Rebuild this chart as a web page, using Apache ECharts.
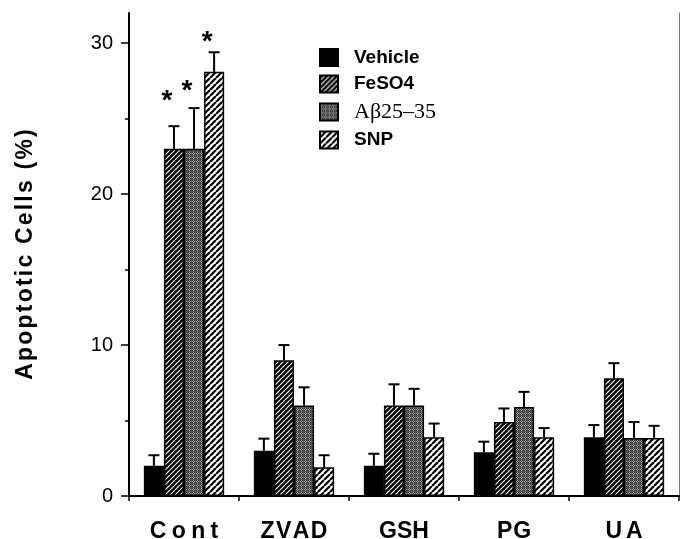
<!DOCTYPE html>
<html><head><meta charset="utf-8">
<script src="https://cdn.jsdelivr.net/npm/echarts@6/dist/echarts.min.js"></script>
<style>html,body{margin:0;padding:0;background:#fff}#c{width:680px;height:539px}</style>
</head><body><div id="c"></div>
<script>
// ---- data ----
const categories = ['Cont', 'ZVAD', 'GSH', 'PG', 'UA'];
const seriesNames = ['Vehicle', 'FeSO4', 'Aβ25–35', 'SNP'];
const vehicle    = [2.0, 3.0, 2.0, 2.9, 3.9];
const vehicleErr = [0.7, 0.8, 0.8, 0.7, 0.8];
const feso4      = [23.0, 9.0, 6.0, 4.9, 7.8];
const feso4Err   = [1.5, 1.0, 1.4, 0.9, 1.0];
const abeta      = [23.0, 6.0, 6.0, 5.9, 3.85];
const abetaErr   = [2.7, 1.2, 1.1, 1.0, 1.05];
const snp        = [28.1, 1.9, 3.9, 3.9, 3.85];
const snpErr     = [1.3, 0.8, 0.9, 0.6, 0.8];
const starCategory = [0, 0, 0];
const starSeries   = [1, 2, 3];
const starValue    = [26.6, 27.3, 30.5];
const yTickValues      = [0, 10, 20, 30];
const yMinorTickValues = [5, 15, 25];
const yTitle = 'Apoptotic Cells (%)';

// ---- styles ----
const xLabelSpacing = [2.7, 0.7, 0, 0.4, 2];
const CAT_GAP = 0.27;

function stripes(bg, fg, size, lw) {
  const c = document.createElement('canvas'); c.width = c.height = size;
  const g = c.getContext('2d');
  g.fillStyle = bg; g.fillRect(0, 0, size, size);
  g.strokeStyle = fg; g.lineWidth = lw; g.beginPath();
  for (const o of [-size, 0, size]) { g.moveTo(o, size); g.lineTo(o + size, 0); }
  g.stroke();
  return c;
}
function mesh() {
  const c = document.createElement('canvas'); c.width = c.height = 4;
  const g = c.getContext('2d');
  g.fillStyle = '#b0b0b0'; g.fillRect(0, 0, 4, 4);
  g.fillStyle = '#2a2a2a';
  for (let y = 0; y < 4; y++) for (let x = 0; x < 4; x++) if ((x + y) % 2 === 0) g.fillRect(x, y, 1, 1);
  g.fillStyle = '#555'; g.fillRect(0, 3, 4, 1); g.fillRect(3, 0, 1, 4);
  return c;
}
const fills = [
  '#000',
  { image: stripes('#000', '#fff', 5, 1.1), repeat: 'repeat' },
  { image: mesh(), repeat: 'repeat' },
  { image: stripes('#fff', '#000', 6, 2.2), repeat: 'repeat' }
];
const values = [vehicle, feso4, abeta, snp];
const errs = [vehicleErr, feso4Err, abetaErr, snpErr];

function spaced(s, style) { return s.split('').map(ch => '{' + style + '|' + ch + '}').join(''); }

function barX(api, cat, si) {
  const c = api.coord([cat, 0]);
  const bw = api.size([1, 0])[0];
  const gw = bw * (1 - CAT_GAP);
  const b = gw / 4;
  return c[0] - gw / 2 + b * (si + 0.5);
}

const errData = [];
for (let si = 0; si < 4; si++) for (let i = 0; i < categories.length; i++)
  errData.push([i, values[si][i], errs[si][i], si]);
const starData = starCategory.map((c, k) => [c, starSeries[k], starValue[k]]);

const xRich = {};
xLabelSpacing.forEach((p, i) => { xRich['l' + i] = { fontFamily: 'Liberation Sans', fontWeight: 'bold', fontSize: 23, color: '#000', padding: [0, p] }; });

const series = seriesNames.map((n, si) => ({
  name: n, type: 'bar', data: values[si], barGap: '0%', barCategoryGap: (CAT_GAP * 100) + '%',
  itemStyle: { color: fills[si], borderColor: '#000', borderWidth: 1.5 },
  emphasis: { disabled: true }
}));
series.push({
  type: 'custom', data: errData, z: 5, silent: true,
  renderItem(params, api) {
    const cat = api.value(0), val = api.value(1), err = api.value(2), si = api.value(3);
    const x = barX(api, cat, si);
    const y0 = api.coord([cat, val])[1], y1 = api.coord([cat, val + err])[1];
    return { type: 'group', children: [
      { type: 'line', shape: { x1: x, y1: y0, x2: x, y2: y1 }, style: { stroke: '#000', lineWidth: 2 } },
      { type: 'line', shape: { x1: x - 5.5, y1: y1, x2: x + 5.5, y2: y1 }, style: { stroke: '#000', lineWidth: 2 } }
    ]};
  }
});
series.push({
  type: 'custom', data: starData, z: 6, silent: true,
  renderItem(params, api) {
    const cat = api.value(0), si = api.value(1), v = api.value(2);
    const x = barX(api, cat, si) - 7;
    const y = api.coord([cat, v])[1];
    return { type: 'text', x: x, y: y + 7, style: { text: '*', fill: '#000', font: 'bold 28px "Liberation Sans"', align: 'center', verticalAlign: 'middle' } };
  }
});

const chart = echarts.init(document.getElementById('c'), null, { renderer: 'canvas' });
chart.setOption({
  animation: false,
  backgroundColor: '#fff',
  grid: { left: 129, right: 1, top: 13, bottom: 43, containLabel: false, outerBoundsMode: 'none' },
  legend: {
    data: seriesNames, orient: 'vertical', left: 314, top: 43,
    itemWidth: 18, itemHeight: 17, itemGap: 7.5, icon: 'rect',
    formatter: n => n === 'Aβ25–35' ? '{s|' + n + '}' : '{b|' + n + '}',
    textStyle: { rich: {
      b: { fontFamily: 'Liberation Sans', fontWeight: 'bold', fontSize: 19, color: '#000', padding: [0, 0, 0, 11], lineHeight: 17 },
      s: { fontFamily: 'Liberation Serif', fontSize: 22, color: '#000', padding: [0, 0, 0, 11], lineHeight: 17 }
    } },
    selectedMode: false
  },
  xAxis: [{
    type: 'category', data: categories, position: 'bottom',
    axisLine: { lineStyle: { color: '#000', width: 2 } },
    axisTick: { show: true, length: 5, lineStyle: { color: '#000', width: 1.5 } },
    axisLabel: { interval: 0, hideOverlap: false, margin: 24, formatter: (v, i) => spaced(v, 'l' + i), rich: xRich },
    splitLine: { show: false }
  }, {
    type: 'category', data: categories, position: 'top',
    axisLine: { lineStyle: { color: '#000', width: 2 } },
    axisTick: { show: false }, axisLabel: { show: false }, splitLine: { show: false }
  }],
  yAxis: [{
    type: 'value', min: 0, max: 32, position: 'left',
    name: spaced(yTitle, 't'), nameLocation: 'middle', nameGap: 92, nameRotate: 90,
    nameTextStyle: { rich: { t: { fontFamily: 'Liberation Sans', fontWeight: 'bold', fontSize: 23, color: '#000', padding: [0, 1.1] } } },
    axisLine: { show: true, lineStyle: { color: '#000', width: 2 } },
    axisTick: { show: true, length: 8, customValues: yTickValues, lineStyle: { color: '#000', width: 1.5 } },
    axisLabel: { customValues: yTickValues, margin: 16, color: '#000', fontFamily: 'Liberation Sans', fontSize: 20 },
    splitLine: { show: false }
  }, {
    type: 'value', min: 0, max: 32, position: 'left', offset: 0,
    axisLine: { show: false },
    axisTick: { show: true, length: 4, customValues: yMinorTickValues, lineStyle: { color: '#000', width: 1.5 } },
    axisLabel: { show: false }, splitLine: { show: false }
  }, {
    type: 'value', min: 0, max: 32, position: 'right',
    axisLine: { show: true, lineStyle: { color: '#777', width: 1 } },
    axisTick: { show: false }, axisLabel: { show: false }, splitLine: { show: false }
  }],
  series: series
});
</script></body></html>
